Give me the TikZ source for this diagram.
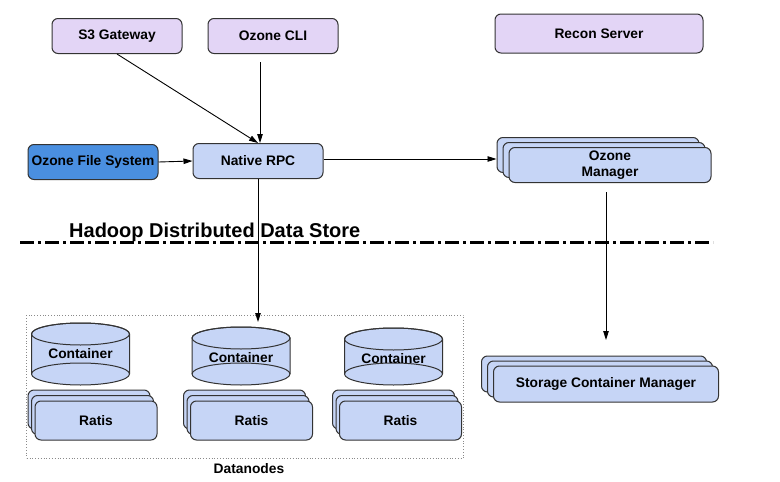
\documentclass[tikz,border=0pt]{standalone}
\usepackage{fontspec}
\setmainfont{Liberation Sans}
\usetikzlibrary{arrows.meta,shadows}
\definecolor{ozLilac}{HTML}{E3D5F6}
\definecolor{ozBlue}{HTML}{C6D5F6}
\definecolor{ozDeep}{HTML}{4A8FE0}
\definecolor{ozLine}{HTML}{333333}
\definecolor{ozGray}{HTML}{8A8A8A}
\tikzset{
  oz box/.style={draw=ozLine, fill=ozBlue, line width=1pt, rounded corners=6pt, inner sep=0pt, align=center, font=\fontsize{13.8}{16.5}\selectfont\bfseries},
  oz client/.style={oz box, fill=ozLilac, minimum width=130pt, minimum height=35pt},
  oz stack/.style={oz box, double copy shadow={shadow xshift=-6pt, shadow yshift=5pt}},
  oz small stack/.style={oz box, double copy shadow={shadow xshift=-3.5pt, shadow yshift=5.5pt}},
  oz arrow/.style={draw=black, line width=0.9pt, -{Triangle[length=9pt,width=5.5pt]}},
  oz divider/.style={draw=black, line width=2.4pt, dash pattern=on 14pt off 4pt on 3pt off 4pt},
  oz frame/.style={draw=ozGray, dotted, line width=0.8pt, inner sep=0pt},
  oz label/.style={font=\fontsize{13.8}{16.5}\selectfont\bfseries, inner sep=0pt},
  oz title/.style={font=\fontsize{20}{24}\selectfont\bfseries, inner sep=0pt},
}

\begin{document}
\begin{tikzpicture}[x=1pt,y=-1pt]
  \useasboundingbox (0,0) rectangle (780,482);
  % clients
  \node[oz client] (s3) at (117,36) {S3 Gateway};
  \node[oz client] (cli) at (273,36) {Ozone CLI};
  \node[oz client, minimum width=208pt, minimum height=39pt] (recon) at (599,33.5) {Recon Server};
  \node[oz box, fill=ozDeep, minimum width=130pt, minimum height=35pt] (ofs) at (93,162) {Ozone File System};
  \node[oz box, minimum width=130pt, minimum height=35pt] (rpc) at (258,161) {Native RPC};
  \node[oz stack, minimum width=202pt, minimum height=35pt] (om) at (610,165) {Ozone\\Manager};
  \node[oz stack, minimum width=225pt, minimum height=36pt] (scm) at (606,384) {Storage Container Manager};
  % data store
  \node[oz frame, minimum width=436.6pt, minimum height=143pt] (dn) at (245,386.8) {};
  \node[oz label] (dnlabel) at (249,469) {Datanodes};
  \foreach \c/\t/\n in {80.5/323/1,241/327/2,393.5/328/3}{
    \draw[draw=ozLine, fill=ozBlue, line width=1pt] (\c-49,\t+11) -- (\c-49,374) arc[start angle=180,end angle=360,x radius=49pt,y radius=11pt] -- (\c+49,\t+11) arc[start angle=0,end angle=180,x radius=49pt,y radius=11pt] -- cycle;
    \draw[draw=ozLine, line width=1pt] (\c,\t+11) ellipse[x radius=49pt,y radius=11pt];
    \draw[draw=ozLine, line width=1pt] (\c+49,374) arc[start angle=0,end angle=180,x radius=49pt,y radius=11pt];
    \node[oz label] (cont\n) at (\c,\t+31) {Container};
  }
  \foreach \c/\n in {96/1,251.5/2,400.5/3}{\node[oz small stack, minimum width=122pt, minimum height=39pt] (ratis\n) at (\c,420.5) {Ratis};}
  % divider
  \draw[oz divider] (20,242.5) -- (713,242.5);
  \node[oz title, anchor=west] (title) at (69,232) {Hadoop Distributed Data Store};
  % connectors
  \coordinate (cliOut) at (260,62);
  \coordinate (omOut) at (606,192);
  \coordinate (scmIn) at (606,340);
  \coordinate (dnIn) at (258,322);
  \draw[oz arrow] (s3.south) -- (rpc.north);
  \draw[oz arrow] (cliOut) -- (cliOut |- rpc.north);
  \draw[oz arrow] (ofs.east) -- (rpc.west);
  \draw[oz arrow] ([yshift=2pt]rpc.east) -- ([xshift=-12pt,yshift=6pt]om.west);
  \draw[oz arrow] (rpc.south) -- (dnIn);
  \draw[oz arrow] (omOut) -- (scmIn);
\end{tikzpicture}
\end{document}
